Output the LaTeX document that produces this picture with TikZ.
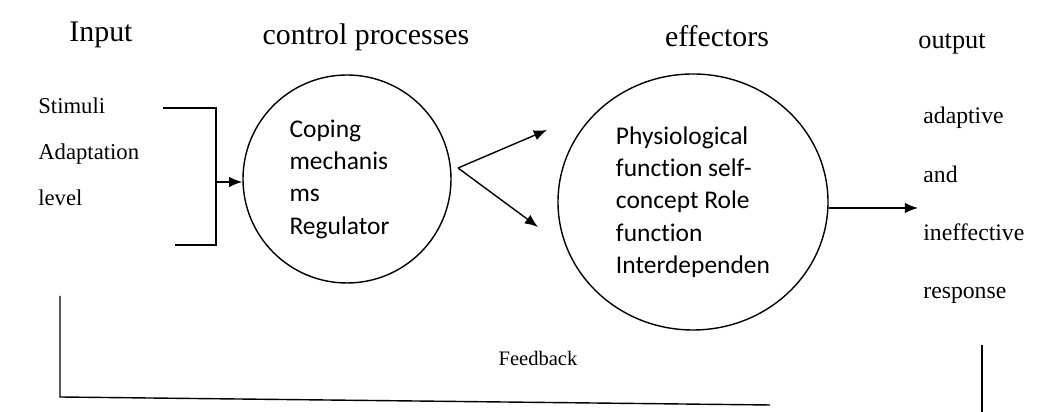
\documentclass[tikz,border=0pt]{standalone}
\usepackage{fontspec}
\setmainfont{Liberation Serif}
\newfontfamily\circfont[Ligatures=NoCommon]{Carlito}
\usepackage{tikz}
\usetikzlibrary{shapes,arrows.meta,positioning,calc}
\tikzset{
proc/.style = {draw, circle, line width=0.8pt, minimum size=4.16cm, inner sep=0pt, align=left, font=\circfont\fontsize{14.5}{18.4}\selectfont},
effbox/.style = {draw, ellipse, line width=0.8pt, minimum width=5.4cm, minimum height=5.12cm, inner sep=0pt, align=left, font=\circfont\fontsize{14.5}{18.4}\selectfont},
head/.style = {font=\fontsize{17}{20}\selectfont},
lbl/.style = {inner sep=0pt, font=\fontsize{12.9}{15}\selectfont},
outlbl/.style = {inner sep=0pt, font=\fontsize{13.5}{16}\selectfont},
tmp/.style = {coordinate},
line/.style = {line width=0.8pt}
}
\begin{document}
\begin{tikzpicture}[>={Latex[length=7.5pt,width=6pt]}]
\useasboundingbox (0,0) rectangle (20.92,8.24);
% circles
\node[proc] (coping) at (6.94,4.66) {Coping\\mechanis\\ms\\Regulator\hspace*{0.3cm}};
\node[effbox, right of=coping, node distance=6.92cm, yshift=-0.46cm] (effectors) {Physiological\\function self-\\concept Role\\function\\Interdependen};
% headings
\node[head] (hinput) at (2.02,7.54) {Input};
\node[head] (hcontrol) at (7.32,7.5) {control processes};
\node[head] (heff) at (14.34,7.52) {effectors};
\node[outlbl, anchor=west, font=\fontsize{15}{18}\selectfont] (houtput) at (18.36,7.36) {output};
% input labels
\node[lbl, anchor=base west] (stimuli) at (0.76,5.96) {Stimuli};
\node[lbl, below=0.92cm of stimuli.base west, anchor=base west] (adapt) {Adaptation};
\node[lbl, below=0.92cm of adapt.base west, anchor=base west] (level) {level};
% output labels
\node[outlbl, anchor=base west] (adaptive) at (18.46,5.76) {adaptive};
\node[outlbl, below=1.18cm of adaptive.base west, anchor=base west] (and) {and};
\node[outlbl, below=1.16cm of and.base west, anchor=base west] (ineff) {ineffective};
\node[outlbl, below=1.16cm of ineff.base west, anchor=base west] (response) {response};
\node[font=\fontsize{11.7}{14}\selectfont] (feedback) at (10.76,1.08) {Feedback};
% helper points
\node[tmp] (brtop) at (3.26,6.08) {};
\node[tmp] (brtr) at (4.32,6.08) {};
\node[tmp] (brbr) at (4.32,3.34) {};
\node[tmp] (brbot) at (3.5,3.34) {};
\node[tmp] (brmid) at (4.32,4.6) {};
\node[tmp] (split) at (9.16,4.88) {};
\node[tmp] (tipup) at (10.94,5.64) {};
\node[tmp] (tipdown) at (10.76,3.7) {};
\node[tmp] (outtip) at (18.36,4.08) {};
\node[tmp] (fbtop) at (1.2,2.32) {};
\node[tmp] (fbcorner) at (1.2,0.3) {};
\node[tmp] (fbend) at (15.4,0.14) {};
\node[tmp] (fbrtop) at (19.64,1.34) {};
\node[tmp] (fbrbot) at (19.64,0) {};
% connectors
\draw[line] (brtop) -- (brtr) -- (brbr) -- (brbot);
\draw[->,line] (brmid) -- (coping.west |- brmid);
\draw[->,line] (split) -- (tipup);
\draw[->,line] (split) -- (tipdown);
\draw[->,line] (effectors.east |- outtip) -- (outtip);
\draw[line] (fbtop) -- (fbcorner) -- (fbend);
\draw[line] (fbrtop) -- (fbrbot);
\end{tikzpicture}
\end{document}
